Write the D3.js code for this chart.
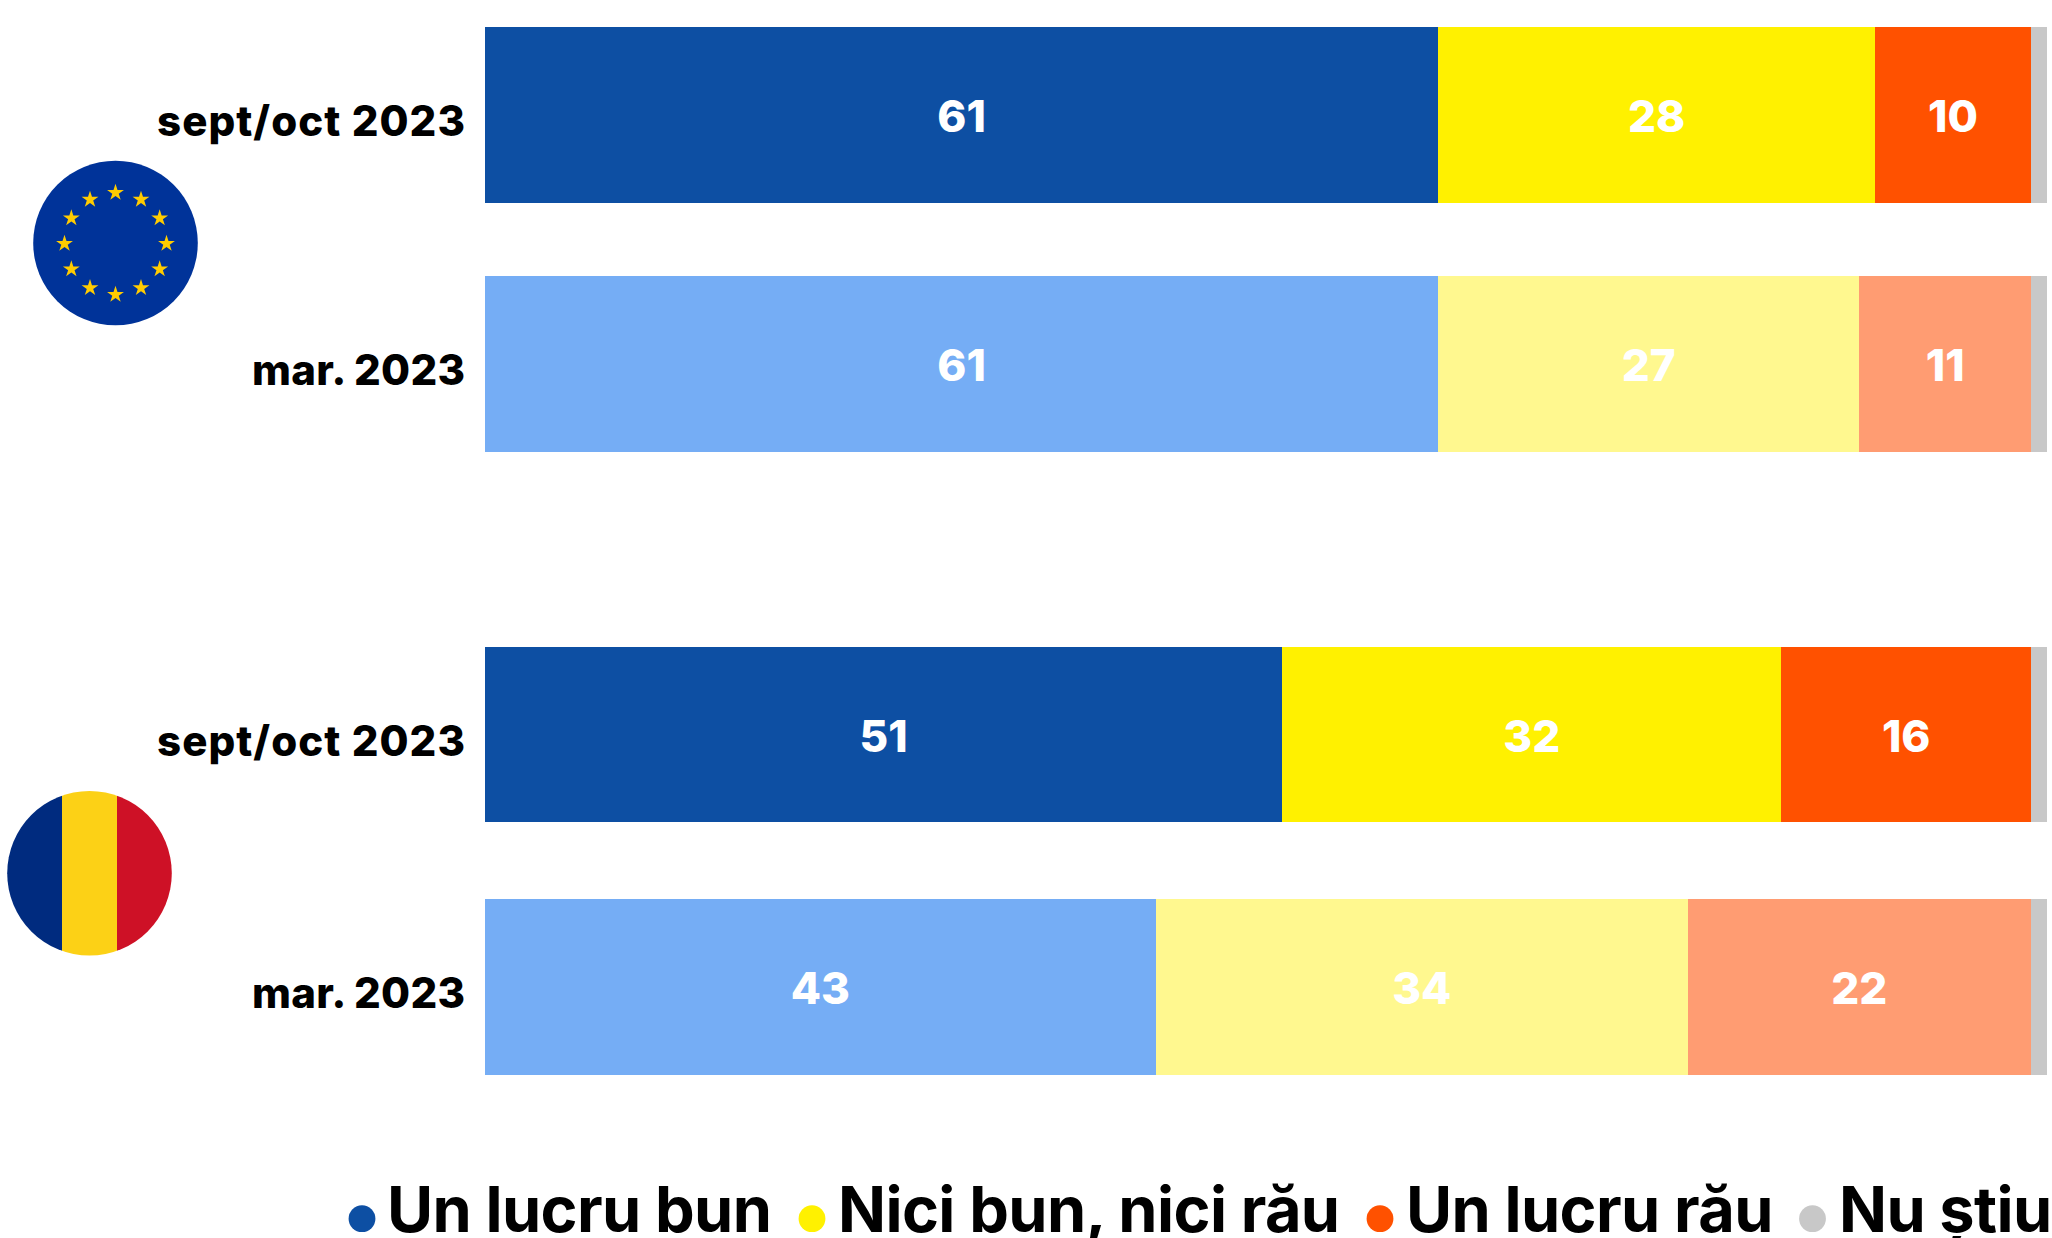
<!DOCTYPE html>
<html><head><meta charset="utf-8">
<script src="https://cdn.jsdelivr.net/npm/d3@7"></script>
<style>html,body{margin:0;padding:0;background:#fff;overflow:hidden}svg{display:block}text{font-family:Inter,Lato,sans-serif;font-weight:700}</style>
</head><body><script>
const rowLabels = ["sept/oct 2023", "mar. 2023"];
const seriesNames = ["Un lucru bun", "Nici bun, nici rău", "Un lucru rău", "Nu știu"];
const euOct = [61.1, 28, 10, 1.03];
const euMar = [61.1, 27, 11, 1.03];
const roOct = [51.1, 32, 16, 1.03];
const roMar = [43, 34.1, 22, 1.03];
const shownEuOct = [61, 28, 10, null];
const shownEuMar = [61, 27, 11, null];
const shownRoOct = [51, 32, 16, null];
const shownRoMar = [43, 34, 22, null];
const strongColors = ["#0D4FA3", "#FFF100", "#FF5100", "#C8C8C8"];
const paleColors = ["#75ADF5", "#FFF88F", "#FF9C72", "#C8C8C8"];
const legendDotX = [362, 812, 1380, 1812.5];
const legendTextX = [387, 838, 1406, 1839];
const rowLabelWidths = [308, 213];

const W = 2052, H = 1238;
const svg = d3.select("body").append("svg").attr("width", W).attr("height", H);
const x = d3.scaleLinear().domain([0, 100]).range([485, 2045]);
const yEU = d3.scaleBand().domain(rowLabels).range([26.7, 451.7]).paddingInner(0.293);
const yRO = d3.scaleBand().domain(rowLabels).range([646.7, 1074.7]).paddingInner(0.305);

function drawGroup(y, rows) {
  const g = svg.append("g");
  rows.forEach((r, ri) => {
    const colors = ri === 0 ? strongColors : paleColors;
    const label = rowLabels[ri];
    let acc = 0;
    const segs = r.values.map((v, i) => { const s = {v, i, x0: acc, x1: acc + v, shown: r.shown[i]}; acc += v; return s; });
    g.selectAll(null).data(segs).enter().append("rect")
      .attr("x", d => x(d.x0)).attr("width", d => x(d.x1) - x(d.x0))
      .attr("y", y(label)).attr("height", y.bandwidth())
      .attr("fill", d => colors[d.i]).attr("shape-rendering", "crispEdges");
    g.selectAll(null).data(segs.filter(d => d.shown !== null)).enter().append("text")
      .attr("x", d => (x(d.x0) + x(d.x1)) / 2)
      .attr("y", Math.ceil(y(label) + y.bandwidth() / 2) + 17)
      .attr("text-anchor", "middle").attr("fill", "#fff").attr("font-size", 44)
      .style("font-weight", 800)
      .text(d => d.shown);
  });
  const axis = d3.axisLeft(y).tickSize(0).tickPadding(0);
  const ag = g.append("g").attr("transform", "translate(465,0)").call(axis);
  ag.select(".domain").remove();
  ag.selectAll("text").attr("font-size", 42).attr("fill", "#000").attr("font-family", null)
    .style("font-weight", 800)
    .attr("dy", null).attr("y", 21.5).attr("x", 0).attr("text-anchor", "end")
    .attr("textLength", (d, i) => rowLabelWidths[i]).attr("lengthAdjust", "spacing");
}
drawGroup(yEU, [{values: euOct, shown: shownEuOct}, {values: euMar, shown: shownEuMar}]);
drawGroup(yRO, [{values: roOct, shown: shownRoOct}, {values: roMar, shown: shownRoMar}]);

// EU flag
const eu = svg.append("g").attr("transform", "translate(115.5,243)");
eu.append("circle").attr("r", 82.3).attr("fill", "#003399");
const star = d3.symbol().type(d3.symbolStar).size(88)();
eu.selectAll(null).data(d3.range(12)).enter().append("path").attr("d", star).attr("fill", "#FFCC00")
  .attr("transform", i => { const a = i * Math.PI / 6; return `translate(${51 * Math.sin(a)},${-51 * Math.cos(a) + 0.7})`; });

// Romanian flag
const defs = svg.append("defs");
defs.append("clipPath").attr("id", "roClip").append("circle").attr("cx", 89.5).attr("cy", 873.3).attr("r", 82.3);
const ro = svg.append("g").attr("clip-path", "url(#roClip)");
ro.selectAll(null).data(["#002B7F", "#FCD116", "#CE1126"]).enter().append("rect")
  .attr("x", (d, i) => [7, 62, 117][i]).attr("width", 55).attr("y", 790).attr("height", 168).attr("fill", d => d)
  .attr("shape-rendering", "crispEdges");

// Legend
const leg = svg.append("g");
leg.selectAll("circle").data(seriesNames).enter().append("circle")
  .attr("cx", (d, i) => legendDotX[i]).attr("cy", 1218.7).attr("r", 13.4).attr("fill", (d, i) => strongColors[i]);
leg.selectAll("text").data(seriesNames).enter().append("text")
  .attr("x", (d, i) => legendTextX[i]).attr("y", 1232).attr("font-size", 63).attr("fill", "#000")
  .style("letter-spacing", "-0.6px").text(d => d);
</script></body></html>
